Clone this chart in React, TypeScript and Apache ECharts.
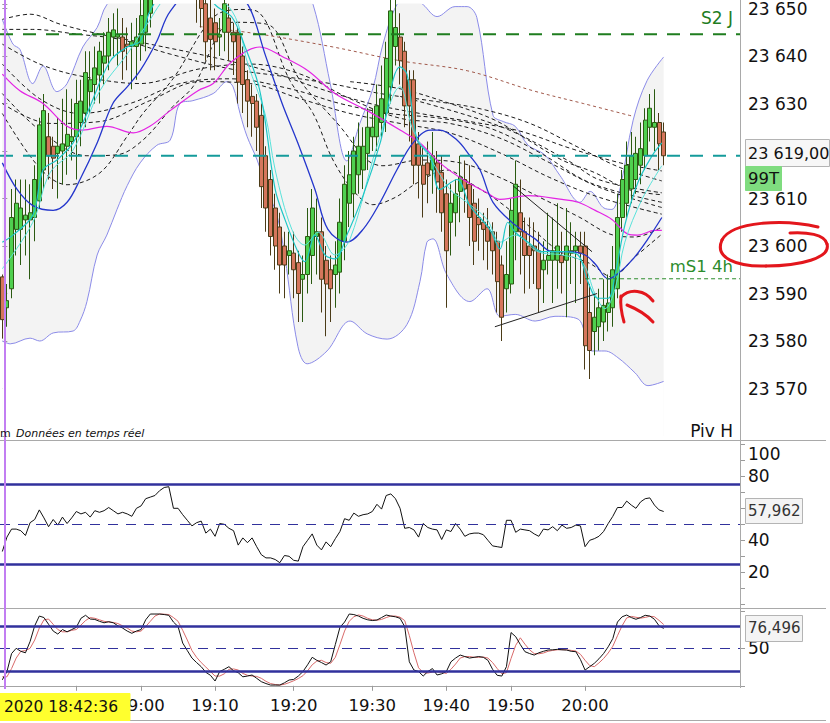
import React, { useEffect, useRef } from "react";
import * as echarts from "echarts";

const FONT = "DejaVu Sans";

// ---------- 99-tick candles ----------
const opens = [
  23593.5, 23587, 23591, 23603.5, 23603.5, 23605.5, 23605.5, 23606, 23609.5, 23616,
  23623, 23621, 23619.5, 23620, 23621, 23622, 23623, 23626, 23628, 23632.5,
  23634, 23636, 23638.5, 23640, 23644, 23644, 23644, 23642.5, 23642, 23642,
  23642.5, 23645, 23649, 23655, 23658, 23660, 23657, 23661, 23663, 23660,
  23662, 23658, 23656, 23653, 23651, 23648, 23647, 23644, 23645, 23648,
  23645, 23645, 23640, 23635, 23631.5, 23630.5, 23627.5, 23619, 23614, 23608,
  23604, 23600, 23598, 23598.5, 23596.5, 23593, 23594, 23598, 23602, 23603,
  23597, 23595, 23594, 23594.5, 23601, 23609, 23611, 23615, 23616, 23619.5,
  23623, 23623, 23626, 23628, 23633.5, 23642, 23644, 23641, 23635, 23635,
  23621.5, 23617, 23617.5, 23616, 23617.5, 23615.5, 23611, 23605, 23607, 23611.5,
  23614, 23613, 23609, 23606, 23605, 23604, 23603, 23601, 23596, 23591,
  23592, 23603, 23607, 23603, 23600, 23600, 23599, 23595, 23597, 23597,
  23597, 23598, 23597, 23598.5, 23599, 23600, 23600, 23586, 23582, 23583,
  23584, 23586, 23587, 23591, 23606, 23609, 23612, 23614, 23617, 23619,
  23625, 23625, 23626, 23624,
];
const closes = [
  23584.5, 23588.5, 23606, 23609, 23608, 23606.5, 23607, 23614, 23625.5, 23628.5,
  23619, 23618.5, 23621, 23621.5, 23623.5, 23623, 23630, 23630.5, 23636.5, 23635,
  23637.5, 23641, 23640, 23645, 23645.5, 23644.5, 23641, 23642, 23643, 23644,
  23648.5, 23652, 23655, 23658, 23660, 23657, 23661, 23663, 23660, 23662,
  23658, 23655, 23653, 23650, 23643, 23643.5, 23643, 23644.5, 23651, 23645,
  23643, 23634.5, 23634, 23630.5, 23630, 23625, 23612.5, 23608, 23602, 23600,
  23596, 23596, 23599, 23595, 23590, 23594, 23602, 23608, 23603, 23593,
  23592, 23591, 23596, 23605, 23613, 23615, 23620, 23621, 23621, 23625,
  23625, 23629.5, 23631, 23639.5, 23649.5, 23646, 23639, 23629.5, 23629.5, 23617,
  23617, 23613, 23615, 23619, 23613.5, 23607, 23599, 23609, 23611, 23614.5,
  23612, 23606, 23601, 23604.5, 23603.5, 23601, 23599, 23592.5, 23585, 23594,
  23607.5, 23613, 23603, 23598, 23598, 23599, 23591, 23597, 23598, 23599,
  23600, 23596.5, 23600, 23599, 23600, 23598.5, 23579, 23578, 23585, 23587,
  23587.5, 23588, 23595, 23606, 23614, 23617, 23619, 23619.5, 23620.5, 23626.5,
  23629, 23626, 23621.5, 23619,
];
const lows = [
  23580.5, 23583, 23589, 23598, 23596, 23598, 23593, 23601, 23608, 23612,
  23614, 23612, 23610, 23613, 23615, 23618, 23614, 23621, 23625, 23628,
  23630, 23630, 23634, 23637, 23640, 23638, 23635, 23637, 23633, 23635,
  23639, 23641, 23646, 23652, 23655, 23654, 23655, 23658, 23657, 23657,
  23655, 23652, 23647, 23646, 23639, 23637, 23637, 23640, 23641, 23639,
  23636, 23630, 23628, 23625, 23623, 23620, 23608, 23603, 23598, 23595,
  23590, 23589, 23594, 23589, 23584, 23584, 23590, 23592, 23594, 23586,
  23581, 23584, 23587, 23590, 23597, 23604, 23606, 23611, 23612, 23616,
  23620, 23620, 23623, 23624, 23630, 23638, 23634, 23625, 23622, 23613,
  23610, 23606, 23609, 23611, 23607, 23603, 23587, 23598, 23602, 23605,
  23607, 23600, 23596, 23599, 23597, 23595, 23594, 23586, 23580, 23586,
  23590, 23597, 23594, 23590, 23591, 23592, 23586, 23588, 23594, 23588,
  23591, 23590, 23585, 23592, 23588, 23592, 23574, 23572, 23577, 23578,
  23580, 23582, 23583, 23589, 23603, 23606, 23609, 23611, 23613, 23616,
  23622, 23620, 23616, 23617,
];
const highs = [
  23594, 23592, 23612, 23614, 23614, 23614, 23613, 23617, 23627, 23632,
  23628, 23623, 23627, 23631, 23633, 23631, 23635, 23635, 23641, 23641,
  23642, 23643, 23645, 23648, 23649, 23650, 23648, 23646, 23647, 23648,
  23652, 23656, 23658, 23661, 23663, 23662, 23664, 23666, 23665, 23664,
  23663, 23660, 23658, 23655, 23654, 23652, 23650, 23648, 23655, 23651,
  23647, 23646, 23642, 23637, 23634, 23632, 23630, 23621, 23616, 23611,
  23607, 23603, 23603, 23603, 23599, 23598, 23608, 23612, 23610, 23606,
  23600, 23598, 23601, 23610, 23617, 23620, 23623, 23626, 23625, 23629,
  23629, 23634, 23638, 23643, 23652, 23652, 23649, 23643, 23637, 23637,
  23624, 23621, 23622, 23624, 23620, 23619, 23614, 23613, 23614, 23619,
  23618, 23617, 23612, 23610, 23607, 23608, 23605, 23603, 23598, 23601,
  23610, 23618, 23614, 23606, 23606, 23605, 23603, 23601, 23607, 23606,
  23609, 23603, 23608, 23605, 23603, 23603, 23603, 23592, 23590, 23591,
  23593, 23594, 23600, 23611, 23616, 23622, 23624, 23623, 23626, 23629,
  23632, 23633, 23628, 23626,
];

const SLOT_COUNT = 160;
const timeTicks: [number, string][] = [
  [16, "18:50"], [30, "19:00"], [46, "19:10"], [63, "19:20"],
  [80, "19:30"], [96, "19:40"], [110, "19:50"], [126, "20:00"],
];
const hiddenTimeLabels = ["18:50"]; // covered by the yellow date box in the reference
const priceLabels = [23570, 23580, 23590, 23600, 23610, 23630, 23640, 23650];
const rsiLabels = [20, 40, 80, 100];

const levelS2J = 23644.6;
const levelLast = 23619;
const levelMS1 = 23593.1;
const levelMS1Start = 126;

// ---------- Bollinger bands & averages: [bar index, price] ----------
const bbUpper: [number, number][] = [
  [0, 23647.7], [2.3, 23642.5], [3.8, 23641.4], [6.6, 23634.2], [8.8, 23637.9], [11.8, 23632.5],
  [14, 23634.2], [17.4, 23641.9], [20.5, 23646], [22.6, 23650.8], [27.6, 23655], [34, 23659],
  [42.7, 23663], [51.4, 23663], [60, 23659], [64.4, 23655], [67.2, 23650.8], [70.9, 23634.2],
  [74.5, 23617.9], [77.3, 23625.8], [80.1, 23633.1], [82.3, 23642.5], [85.3, 23650.8], [88.1, 23653],
  [91, 23650.8], [94, 23648.3], [97.9, 23650.4], [100.5, 23650.4], [102.6, 23648.1], [106.1, 23627.5],
  [108.3, 23626.2], [110.9, 23625.2], [113.7, 23621.2], [117.3, 23619.2], [120.6, 23614.8],
  [124.9, 23609.2], [127.1, 23611.5], [129.9, 23608.1], [131.8, 23607.7], [133.6, 23612.3],
  [136.4, 23626.5], [139.4, 23634.8], [143, 23639.8],
];
const bbLower: [number, number][] = [
  [0, 23580], [1.7, 23579.4], [6, 23580.6], [8.1, 23580], [11, 23581.7], [15.3, 23582.1],
  [16.8, 23584.2], [18.3, 23588.3], [20.5, 23598.1], [22.6, 23602.3], [24.8, 23607.7], [27, 23612.7],
  [29.8, 23617.5], [33.4, 23621.2], [36.3, 23622.3], [38.4, 23630], [41.2, 23630.6], [45.6, 23632.1],
  [48.6, 23634.6], [49.9, 23633.5], [51.4, 23627.9], [52.9, 23623.1], [55.1, 23618.1], [57.2, 23611.9],
  [59.4, 23606.4], [61.1, 23597.7], [63.9, 23578.9], [65.9, 23575.2], [70.2, 23577.9], [75.2, 23584.2],
  [78.9, 23581.5], [83.2, 23580.4], [87.5, 23583.5], [90.3, 23592.5], [91.8, 23600.8], [93.1, 23601.5],
  [96.1, 23594], [101.1, 23588.3], [104.8, 23591], [107.6, 23585.2], [110.9, 23585.6], [115.2, 23584.2],
  [119.5, 23585.2], [124.5, 23584.6], [127.5, 23577.9], [130.3, 23577.9], [133.1, 23576.5],
  [136.8, 23573.3], [139.6, 23570.6], [143, 23571.5],
];
const cyanFast: [number, number][] = [
  [0, 23600.8], [2.3, 23602.3], [6.6, 23606.5], [8.8, 23616], [11.8, 23618.1], [15.3, 23621.7],
  [18.3, 23627.9], [23.3, 23638.9], [27, 23641.9], [29.8, 23643.1], [31.9, 23649.4], [36.3, 23655],
  [42.7, 23656], [46, 23650.8], [49.7, 23648.1], [52.5, 23641.9], [55.3, 23634.2], [56.8, 23626.5],
  [59, 23611.9], [61.1, 23605.6], [63.9, 23598.8], [65.4, 23596.7], [67.6, 23602.3], [69.8, 23598.1],
  [71.9, 23597.3], [74.5, 23602.3], [78, 23610.6], [81.7, 23621.7], [86, 23637.7], [87.5, 23636.2],
  [89.7, 23622.3], [92.5, 23619], [94.6, 23611.9], [98.3, 23614], [101.1, 23608.5], [105.4, 23603.5],
  [107.6, 23599.4], [109.3, 23605], [110.9, 23602.9], [113.7, 23600.8], [116.7, 23598.8],
  [121, 23598.8], [124.5, 23598.1], [126.6, 23592.5], [128.8, 23589], [131, 23589], [132.5, 23594],
  [134.6, 23604.4], [137.4, 23613.3], [140.5, 23619], [142.6, 23621.7],
];
const cyanSlow: [number, number][] = [
  [0, 23595.2], [6.6, 23605], [10.3, 23615.4], [15.3, 23620.2], [21.1, 23632.7], [27, 23640.4],
  [31.3, 23646.7], [36.3, 23653], [42.7, 23654], [49.7, 23649.4], [53.1, 23638.3], [56.8, 23627.9],
  [59, 23616], [62.6, 23603.5], [65.4, 23600.2], [68.3, 23602.9], [71.9, 23598.1], [75.2, 23601.5],
  [81, 23621], [86, 23633.5], [88.8, 23624.4], [93.1, 23617.5], [96.8, 23611.9], [99.6, 23609.8],
  [104.8, 23605.6], [107.6, 23600.8], [110.9, 23602.3], [115.8, 23598.8], [121, 23598.1],
  [125.3, 23596.7], [128.2, 23589.8], [130.3, 23586.8], [132.5, 23591], [134.6, 23600.8],
  [138.3, 23609.8], [142.6, 23616.9],
];
const blueAvg: [number, number][] = [
  [0, 23617.5], [3.2, 23611.9], [6.6, 23608.5], [11, 23607.5], [14, 23609.2], [16.8, 23614],
  [20.5, 23621.7], [23.9, 23630], [27, 23633.5], [29.8, 23636.9], [33.4, 23643.1], [36.3, 23649.4],
  [42.7, 23655], [49.2, 23653], [53.1, 23650.8], [56.8, 23640.4], [60.5, 23630], [63.9, 23621.7],
  [67.6, 23611.9], [70.4, 23603.5], [74.5, 23600.8], [78, 23603.5], [81.7, 23609.2], [85.3, 23616],
  [88.8, 23621.7], [92.5, 23624.4], [94.6, 23624.4], [98.3, 23622.3], [101.1, 23619], [103.3, 23616],
  [106.1, 23609.2], [110.9, 23604.4], [115.2, 23601.5], [118.9, 23598.8], [122.3, 23598.8],
  [126, 23598.1], [128.2, 23596.2], [131, 23593.1], [132.9, 23594], [136.4, 23597.3],
  [139.6, 23601.5], [142.6, 23606],
];
const magentaAvg: [number, number][] = [
  [0, 23636.2], [3.8, 23632.7], [8.8, 23630], [14, 23625.2], [17.4, 23624.4], [22.6, 23625.2],
  [28.3, 23623.8], [31.9, 23625.2], [36.3, 23628.5], [42.3, 23632.7], [45.6, 23634.2], [49.7, 23638.9],
  [55.7, 23641.9], [60.7, 23639.8], [66.1, 23636.9], [71.9, 23632.1], [78.9, 23628.5], [86, 23624.4],
  [90.3, 23621.7], [94.6, 23617.5], [99.6, 23614], [104.8, 23611.2], [107.6, 23609.8], [113.7, 23610.6],
  [121, 23609.8], [124.5, 23609.2], [128.2, 23607.5], [131.8, 23605.6], [135.3, 23602.5],
  [137.4, 23602.3], [141.1, 23603.3], [142.6, 23603.3],
];
const brownAvg: [number, number][] = [
  [42.7, 23646.2], [55.7, 23644.6], [71.5, 23641.9], [86, 23639], [100.5, 23636.9],
  [114.7, 23632.7], [125.6, 23630], [136.4, 23627.3],
];
const dashAvg1: [number, number][] = [
  [0, 23627.9], [8.1, 23616.4], [14, 23612.9], [21.1, 23615.4], [27, 23623.1], [30.4, 23627.9],
  [36.9, 23635.2], [45.6, 23648.1], [51.4, 23649.8], [55.1, 23649.4], [62.2, 23634.8], [67.2, 23627.9],
  [71.5, 23618.1], [76.3, 23611.2], [80.1, 23608.7], [84.9, 23610.2], [89.7, 23613.3], [96.1, 23616],
  [101.1, 23613.3], [107.6, 23609.2], [114.1, 23604], [120.6, 23598.8], [127.1, 23596.3],
  [131.8, 23593.5], [136.8, 23597.7], [142.6, 23602.5],
];
const dashAvg2: [number, number][] = [
  [0, 23632.1], [8.1, 23624.4], [18.3, 23619], [24.8, 23619.2], [30.4, 23622.3], [36.9, 23629.4],
  [41.2, 23633.5], [49.9, 23647.1], [57.2, 23646.7], [64.4, 23634.8], [73, 23625.2], [78.9, 23618.1],
  [82.3, 23616.9], [90.3, 23618.1], [99, 23617.5], [107.6, 23614.4], [116.3, 23610.2], [124.9, 23606],
  [131.4, 23602.5], [136.8, 23601.9], [142.6, 23604],
];
const dashAvg3: [number, number][] = [
  [0, 23645.6], [6.6, 23645.6], [16.1, 23644.6], [25.4, 23643.5], [36.3, 23640.4], [49.2, 23637.3],
  [60, 23635.8], [70.9, 23634.2], [81.7, 23632.1], [92.5, 23630.6], [103.3, 23628.9], [114.1, 23625.8],
  [124.9, 23620.6], [133.6, 23616.5], [142.6, 23613.7],
];
const dashAvg4: [number, number][] = [
  [0, 23642.5], [8.1, 23638.3], [16.8, 23635.8], [29.8, 23634.2], [42.7, 23637.3], [53.6, 23638.3],
  [64.4, 23636.2], [75.2, 23631], [86, 23626.9], [96.8, 23625.8], [107.6, 23622.7], [118.4, 23617.5],
  [129.2, 23612.3], [142.6, 23608.1],
];
const dashAvg5: [number, number][] = [
  [0, 23638.3], [8.1, 23631], [16.8, 23627.9], [27.6, 23630], [38.4, 23634.2], [49.2, 23635.2],
  [62.2, 23633.1], [73, 23630], [83.8, 23627.9], [94.6, 23626.9], [105.4, 23624.8], [116.3, 23619.6],
  [127.1, 23613.3], [142.6, 23609.2],
];
const dashAvg6: [number, number][] = [
  [0, 23630], [10.3, 23625.8], [21.1, 23626.2], [31.9, 23630.6], [42.7, 23634.6], [53.6, 23634.2],
  [64.4, 23631], [75.2, 23627.9], [86, 23625.8], [96.8, 23623.8], [107.6, 23619.6], [118.4, 23614.4],
  [129.2, 23610.2], [142.6, 23606.7],
];
const dashAvg7: [number, number][] = [
  [0, 23647.7], [6, 23648.8], [12.5, 23646.7], [21.1, 23644.6], [31.9, 23642.5], [47.1, 23639.4],
  [57.9, 23636.7], [68.7, 23633.1], [79.5, 23630], [90.3, 23627.9], [101.1, 23626.2], [111.9, 23624.2],
  [122.7, 23620.6], [133.6, 23617.5], [142.6, 23615.8],
];
const dashAvg8: [number, number][] = [
  [75.2, 23634.6], [86, 23633.1], [96.8, 23630], [106.5, 23626.5], [113.7, 23622.3], [121, 23618.1],
  [128.2, 23615.4], [135.3, 23611.9], [142.6, 23610.8],
];
const dashAvg9: [number, number][] = [
  [86, 23631.5], [107.6, 23625.2], [122.1, 23618.1], [129.2, 23613.9], [142.6, 23611.2],
];
const trendDown: [number, number][] = [[110.4, 23612.7], [127.5, 23598.8]];
const trendUp: [number, number][] = [[106.5, 23583], [128.6, 23590]];

// ---------- RSI ----------
const rsiValues = [
  33, 42, 47, 47, 46, 43, 51, 53, 59, 54, 48.5, 53, 49.5, 54.5, 50.5, 54, 58, 56.5, 57.5, 54.5,
  58.5, 57.5, 58.5, 60.5, 58.5, 56.5, 57.5, 56.5, 55, 60, 61.5, 66, 67, 68, 71, 73, 73.5, 60, 60, 56,
  52.5, 49, 51, 52, 44.5, 47, 42.5, 50.5, 50, 47.5, 46, 37, 41.5, 38.5, 41.5, 36, 31, 29, 29, 28,
  26, 30.5, 30, 27.5, 27, 36, 40, 44, 37, 34, 39, 36, 41, 45.5, 53.5, 52.5, 57, 55, 56, 56.5,
  58, 62.5, 59.5, 68, 69, 66, 60, 47.5, 48, 46.5, 42, 50.5, 48, 47, 46.5, 40.5, 46.5, 45.5, 50.5, 47,
  42.5, 44, 44.5, 44.5, 43.5, 40, 36.5, 36, 35.5, 52.5, 52.5, 45, 47, 46.5, 46, 44, 42.5, 47, 46.5, 48.5,
  46, 49.5, 47.5, 48, 49.5, 49, 36, 40, 41, 42.5, 45.5, 50.5, 55, 60.5, 60.5, 64.5, 62, 60, 64, 66,
  66.5, 62, 59, 58,
];

// ---------- Stochastic ----------
const stochK = [
  8, 19, 43, 50, 46, 44, 59, 80, 93, 91, 82, 73, 69, 75, 72, 75, 78, 90, 94, 89,
  88.5, 86, 84, 85.5, 84, 80, 77, 73, 70, 73, 75, 88, 95.7, 95.7, 95.7, 95, 94, 85, 79, 57,
  47, 37, 31, 25.5, 18, 14, 6.4, 19, 22, 25.5, 20, 17.5, 12, 13, 14.4, 10, 5.5, 3, 1, 1,
  1, 4, 7.7, 8.5, 13, 19, 28, 38, 34, 31, 27.7, 32, 55, 78, 85, 95.7, 95, 93, 90, 88,
  87, 87.7, 91, 94.4, 93, 92, 90, 79, 32, 21, 19, 13, 19, 23, 14.4, 16, 19, 32, 37, 41,
  39, 37, 38, 39, 38, 34, 22, 14, 13, 25.5, 71, 65.5, 55, 45.5, 43, 41, 44, 46, 47.7, 48,
  48.6, 48, 47.7, 46, 45.5, 35, 21, 25.5, 30, 36, 43, 52, 63, 85, 92, 94.4, 91, 88.7, 91, 94,
  93, 88.7, 80, 76.5,
];
const stochD = [
  12, 12, 23, 37, 46, 47, 50, 61, 77, 88, 89, 82, 75, 72, 72, 74, 75, 81, 87, 91,
  90, 88, 86, 85, 84.5, 83, 80, 77, 73, 72, 73, 79, 86, 93, 95.7, 95.5, 95, 91, 86, 74,
  61, 47, 38, 31, 25, 19, 13, 13, 16, 22, 22.5, 21, 16.5, 14, 13, 12.5, 10, 6, 3, 1.7,
  1, 2, 4.2, 6.7, 9.7, 13.5, 20, 28, 33, 34, 31, 30, 38, 55, 73, 86, 92, 94.5, 93, 90,
  88, 87.5, 88.5, 91, 93, 93, 91.5, 87, 67, 44, 24, 17.7, 17, 18.3, 18.8, 17.8, 16.5, 22, 29, 37,
  39, 39, 38, 38, 38.3, 37, 31, 23, 16, 17.5, 36.5, 54, 64, 55.5, 48, 43, 42.7, 43.7, 46, 47.2,
  48, 48.2, 48, 47.2, 46.4, 42, 34, 27, 25.5, 30.5, 36.3, 43.7, 52.7, 66.7, 80, 90.5, 92.5, 91.4, 90.2, 91.2,
  92.7, 92, 87.2, 81.7,
];

const fmtPrice = (v: number) => {
  const r = Math.round(v);
  if (!priceLabels.includes(r) || Math.abs(r - v) > 0.01) return "";
  return Math.floor(r / 1000) + " " + String(r % 1000).padStart(3, "0");
};

export default function App() {
  const ref = useRef<HTMLDivElement>(null);

  useEffect(() => {
    document.body.style.margin = "0";
    if (!ref.current) return;
    const chart = echarts.init(ref.current, undefined, { renderer: "svg" });

    const tickMap = new Map<number, string>(timeTicks);
    const cats = Array.from({ length: SLOT_COUNT }, (_, i) => String(i));
    const showTick = (idx: number) => tickMap.has(idx);

    const candleData = opens.map((o, i) => [o, closes[i], lows[i], highs[i]]);

    const ov = (data: [number, number][], color: string, width: number, type: any, z: number, smooth: number | boolean = 0.35) => ({
      type: "line",
      xAxisIndex: 1,
      yAxisIndex: 0,
      data,
      z,
      symbol: "none",
      smooth,
      silent: true,
      lineStyle: { color, width, type },
    });

    const dashStyle = [4, 3];
    const dashes = [dashAvg1, dashAvg2, dashAvg3, dashAvg4, dashAvg5, dashAvg6, dashAvg7, dashAvg8, dashAvg9];

    const levelLine = (x0: number, v: number, color: string, width: number, type: any) => ({
      type: "line",
      xAxisIndex: 1,
      yAxisIndex: 0,
      z: 6,
      data: [[x0, v], [SLOT_COUNT - 0.5, v]],
      symbol: "none",
      silent: true,
      lineStyle: { color, width, type },
    });

    const bandLine = (y: number, dashed: boolean) => ({
      yAxis: y,
      lineStyle: { color: "#31319c", width: dashed ? 1 : 2.5, type: dashed ? [10, 8] : "solid" },
    });

    const series: any[] = [
      {
        type: "line", xAxisIndex: 1, yAxisIndex: 0, data: bbUpper, symbol: "none", smooth: 0.35, silent: true, z: 0,
        lineStyle: { opacity: 0 }, areaStyle: { color: "#f3f3f3", origin: "start", opacity: 1 },
      },
      {
        type: "line", xAxisIndex: 1, yAxisIndex: 0, data: bbLower, symbol: "none", smooth: 0.35, silent: true, z: 1,
        lineStyle: { opacity: 0 }, areaStyle: { color: "#ffffff", origin: "start", opacity: 1 },
      },
      ov(bbUpper, "#8b8be8", 1, "solid", 2),
      ov(bbLower, "#8b8be8", 1, "solid", 2),
      ...dashes.map((d) => ov(d, "#1a1a1a", 1, dashStyle, 2)),
      ov(brownAvg, "#a0584a", 1, [3, 3], 2),
      {
        type: "candlestick",
        xAxisIndex: 0,
        yAxisIndex: 0,
        data: candleData,
        z: 3,
        barWidth: 4.4,
        silent: true,
        itemStyle: {
          color: "#4fd04f",
          color0: "#d5765c",
          borderColor: "#2b5a12",
          borderColor0: "#4b3b17",
          borderWidth: 1,
        },
      },
      ov(magentaAvg, "#e424e4", 1.2, "solid", 4),
      ov(blueAvg, "#2436cc", 1.3, "solid", 4),
      ov(cyanSlow, "#58e2da", 1, "solid", 4),
      ov(cyanFast, "#1ec6c6", 1.2, "solid", 4),
      ov(trendDown, "#222222", 1, "solid", 5, false),
      ov(trendUp, "#222222", 1, "solid", 5, false),
      levelLine(-0.5, levelS2J, "#1f7d1f", 2, [13, 10]),
      levelLine(-0.5, levelLast, "#149b9b", 2, [13, 10]),
      levelLine(levelMS1Start, levelMS1, "#2c8c2c", 1, [4, 3]),
      {
        type: "line", xAxisIndex: 2, yAxisIndex: 1, data: rsiValues, symbol: "none", silent: true,
        lineStyle: { color: "#111111", width: 1 },
        markLine: {
          silent: true, symbol: "none", label: { show: false },
          data: [bandLine(75, false), bandLine(25, false), bandLine(50, true)],
        },
      },
      {
        type: "line", xAxisIndex: 3, yAxisIndex: 2, data: stochD, symbol: "none", silent: true,
        lineStyle: { color: "#d86a6a", width: 1 },
        markLine: {
          silent: true, symbol: "none", label: { show: false },
          data: [bandLine(80, false), bandLine(20, false), bandLine(50, true)],
        },
      },
      {
        type: "line", xAxisIndex: 3, yAxisIndex: 2, data: stochK, symbol: "none", silent: true, z: 3,
        lineStyle: { color: "#111111", width: 1 },
      },
    ];

    const axisTickStyle = { show: true, length: 5, lineStyle: { color: "#9a9a9a" } };
    const labelStyle = { fontFamily: FONT, fontSize: 17, color: "#111111" };

    const txt = (x: number, y: number, text: string, opts: any = {}) => ({
      type: "text",
      x,
      y,
      z: 60,
      silent: true,
      style: {
        text,
        fill: opts.fill || "#111",
        fontFamily: opts.fontFamily || FONT,
        fontSize: opts.fontSize || 17,
        fontStyle: opts.fontStyle || "normal",
        align: opts.align || "left",
        verticalAlign: "middle",
      },
    });
    const hline = (x1: number, x2: number, y: number, color = "#a9a9a9", w = 1) => ({
      type: "line", z: 55, silent: true, shape: { x1, y1: y, x2, y2: y }, style: { stroke: color, lineWidth: w },
    });
    const box = (x: number, y: number, w: number, h: number, fill: string, stroke: string) => ({
      type: "rect", z: 58, silent: true, shape: { x, y, width: w, height: h }, style: { fill, stroke, lineWidth: 1 },
    });
    const red = (x1: number, y1: number, cpx1: number, cpy1: number, cpx2: number, cpy2: number, x2: number, y2: number) => ({
      type: "bezierCurve", z: 70, silent: true,
      shape: { x1, y1, cpx1, cpy1, cpx2, cpy2, x2, y2 },
      style: { stroke: "#e3161c", lineWidth: 3, fill: "none", lineCap: "round" },
    });

    const graphics: any[] = [
      hline(0, 826, 440.5),
      hline(0, 826, 608.5),
      hline(0, 826, 720.5),
      { type: "line", z: 55, silent: true, shape: { x1: 740.5, y1: 0, x2: 740.5, y2: 688 }, style: { stroke: "#a9a9a9", lineWidth: 1 } },
      { type: "line", z: 56, silent: true, shape: { x1: 5, y1: 0, x2: 5, y2: 689 }, style: { stroke: "#c27ef2", lineWidth: 2 } },
      txt(733, 18, "S2 J", { fill: "#1f7d1f", align: "right" }),
      txt(733, 266, "mS1 4h", { fill: "#2c8c2c", align: "right", fontSize: 16.5 }),
      txt(733, 431, "Piv H", { align: "right" }),
      txt(0, 433, "m", { fontSize: 11 }),
      txt(16, 433, "Données en temps réel", { fontSize: 11, fontStyle: "italic" }),
      box(745.5, 139.5, 84, 27, "#f7f7f7", "#b4b4b4"),
      txt(748, 153, "23 619,00", { fontSize: 16 }),
      box(745.5, 166.5, 36, 24, "#7fdc7f", "#7fdc7f"),
      txt(748, 178.5, "99T", { fontSize: 16.5 }),
      box(745.5, 498.5, 57, 25, "#f4f4f4", "#b4b4b4"),
      txt(748, 511, "57,962", { fontSize: 15, fill: "#333" }),
      box(745.5, 615.5, 57, 26, "#f4f4f4", "#b4b4b4"),
      txt(748, 628, "76,496", { fontSize: 15, fill: "#333" }),
      box(0, 693.5, 130, 27, "#ffff2e", "#ffff2e"),
      txt(4, 707, "2020 18:42:36", { fontSize: 15.5 }),
      red(818, 227, 785, 219, 732, 221, 722, 240),
      red(722, 240, 714, 258, 737, 267, 766, 266),
      red(766, 266, 800, 266, 831, 258, 827, 244),
      red(827, 244, 825, 234, 806, 232, 790, 233),
      red(621, 296, 620, 305, 622, 315, 624, 322),
      red(621, 297, 630, 288, 645, 290, 653, 301),
      red(627, 305, 637, 309, 647, 315, 653, 322),
    ];

    const option: any = {
      animation: false,
      textStyle: { fontFamily: FONT },
      grid: [
        { left: 0, top: 0, width: 740, height: 436 },
        { left: 0, top: 444.3, width: 740, height: 160 },
        { left: 0, top: 610.8, width: 740, height: 75 },
      ],
      xAxis: [
        { type: "category", gridIndex: 0, data: cats, show: false, boundaryGap: true },
        { type: "value", gridIndex: 0, min: -0.5, max: SLOT_COUNT - 0.5, show: false },
        { type: "category", gridIndex: 1, data: cats, show: false, boundaryGap: true },
        {
          type: "category",
          gridIndex: 2,
          data: cats,
          boundaryGap: true,
          offset: 2,
          axisLine: { show: true, lineStyle: { color: "#a4a4a4" } },
          axisTick: { show: true, interval: (i: number) => showTick(i), alignWithLabel: true, length: 5, lineStyle: { color: "#9a9a9a" } },
          axisLabel: {
            interval: (i: number) => showTick(i) && !hiddenTimeLabels.includes(tickMap.get(i) || ""),
            formatter: (_v: string, i: number) => {
              const t = tickMap.get(i) || "";
              return hiddenTimeLabels.includes(t) ? "" : t;
            },
            fontFamily: FONT,
            fontSize: 16.5,
            color: "#111",
            margin: 9,
          },
          splitLine: { show: false },
        },
      ],
      yAxis: [
        {
          type: "value", gridIndex: 0, position: "right", min: 23560, max: 23650.83, interval: 10,
          axisLine: { show: false }, axisTick: axisTickStyle, splitLine: { show: false },
          axisLabel: { ...labelStyle, margin: 8, formatter: fmtPrice },
        },
        {
          type: "value", gridIndex: 1, position: "right", min: 0, max: 100, interval: 10,
          axisLine: { show: false }, axisTick: axisTickStyle, splitLine: { show: false },
          axisLabel: {
            ...labelStyle,
            margin: 8,
            formatter: (v: number) => (v === 100 ? "{t|100}" : rsiLabels.includes(v) ? String(v) : ""),
            rich: { t: { fontFamily: FONT, fontSize: 17, color: "#111", padding: [19, 0, 0, 0] } },
          },
        },
        {
          type: "value", gridIndex: 2, position: "right", min: 0, max: 100, interval: 50,
          axisLine: { show: false }, axisTick: axisTickStyle, splitLine: { show: false },
          axisLabel: { ...labelStyle, margin: 8, formatter: (v: number) => (v === 50 ? "50" : "") },
        },
      ],
      series,
      graphic: { elements: graphics },
    };

    chart.setOption(option);
    return () => chart.dispose();
  }, []);

  return <div ref={ref} style={{ width: 830, height: 723, background: "#ffffff" }} />;
}
